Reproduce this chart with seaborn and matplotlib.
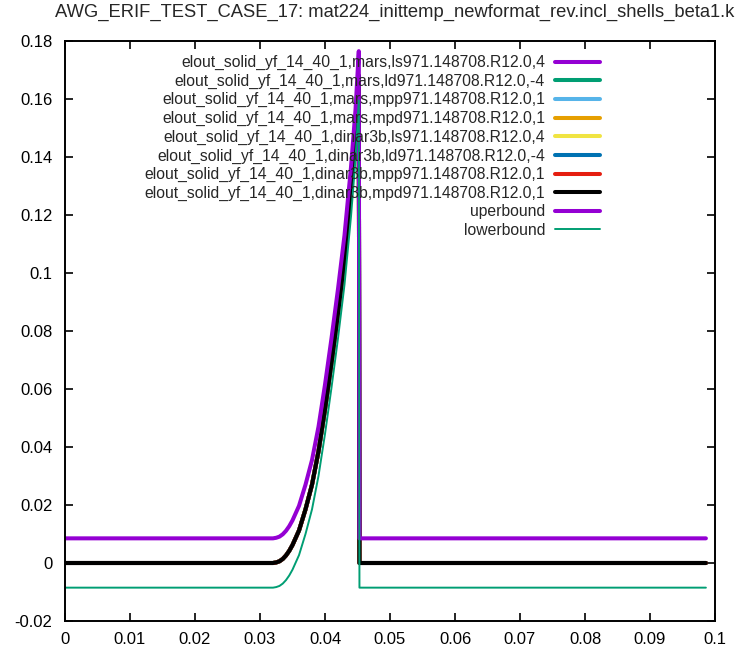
import matplotlib
matplotlib.use("Agg")
import matplotlib.pyplot as plt
import seaborn as sns

# valores
x_vals = [0.0, 0.01, 0.02, 0.03, 0.031, 0.032, 0.0325, 0.033, 0.0335, 0.034, 0.0345,
          0.035, 0.036, 0.037, 0.038, 0.039, 0.040, 0.041, 0.042, 0.043, 0.044,
          0.0447, 0.0452, 0.0453, 0.05, 0.06, 0.07, 0.08, 0.09, 0.0986]

elout_vals = [0.0, 0.0, 0.0, 0.0, 0.0, 0.0, 0.0002, 0.0006, 0.0014, 0.0026, 0.0042,
              0.0062, 0.0112, 0.0185, 0.0270, 0.0385, 0.0530, 0.0690, 0.0860, 0.1045, 0.1280,
              0.1480, 0.1680, 0.0, 0.0, 0.0, 0.0, 0.0, 0.0, 0.0]

upper_vals = [0.0085, 0.0085, 0.0085, 0.0085, 0.0085, 0.0085, 0.0087, 0.0091, 0.0099, 0.0111, 0.0127,
              0.0147, 0.0197, 0.0270, 0.0355, 0.0470, 0.0615, 0.0775, 0.0945, 0.1130, 0.1365,
              0.1565, 0.1765, 0.0085, 0.0085, 0.0085, 0.0085, 0.0085, 0.0085, 0.0085]

lower_vals = [-0.0085, -0.0085, -0.0085, -0.0085, -0.0085, -0.0085, -0.0083, -0.0079, -0.0071, -0.0059, -0.0043,
              -0.0023, 0.0027, 0.0100, 0.0185, 0.0300, 0.0445, 0.0605, 0.0775, 0.0960, 0.1195,
              0.1395, 0.1595, -0.0085, -0.0085, -0.0085, -0.0085, -0.0085, -0.0085, -0.0085]

series_labels = [
    "elout_solid_yf_14_40_1,mars,ls971.148708.R12.0,4",
    "elout_solid_yf_14_40_1,mars,ld971.148708.R12.0,-4",
    "elout_solid_yf_14_40_1,mars,mpp971.148708.R12.0,1",
    "elout_solid_yf_14_40_1,mars,mpd971.148708.R12.0,1",
    "elout_solid_yf_14_40_1,dinar3b,ls971.148708.R12.0,4",
    "elout_solid_yf_14_40_1,dinar3b,ld971.148708.R12.0,-4",
    "elout_solid_yf_14_40_1,dinar3b,mpp971.148708.R12.0,1",
    "elout_solid_yf_14_40_1,dinar3b,mpd971.148708.R12.0,1",
]
series_colors = ["#9400d3", "#009e73", "#56b4e9", "#e69f00",
                 "#f0e442", "#0072b2", "#e51e10", "#000000"]

x_ticks = [0.0, 0.01, 0.02, 0.03, 0.04, 0.05, 0.06, 0.07, 0.08, 0.09, 0.1]
x_tick_labels = ["0", "0.01", "0.02", "0.03", "0.04", "0.05", "0.06", "0.07", "0.08", "0.09", "0.1"]
y_ticks = [-0.02, 0.0, 0.02, 0.04, 0.06, 0.08, 0.1, 0.12, 0.14, 0.16, 0.18]
y_tick_labels = ["-0.02", "0", "0.02", "0.04", "0.06", "0.08", "0.1", "0.12", "0.14", "0.16", "0.18"]

titulo = "AWG_ERIF_TEST_CASE_17: mat224_inittemp_newformat_rev.incl_shells_beta1.k"

sns.set_style("ticks")
plt.rcParams['font.family'] = ['Liberation Sans', 'DejaVu Sans']

fig = plt.figure(figsize=(7.35, 6.52), dpi=100)
ax = fig.add_axes([65 / 735, 1 - 621 / 652, 650 / 735, 580 / 652])

for lab, cor in zip(series_labels, series_colors):
    sns.lineplot(x=x_vals, y=elout_vals, color=cor, linewidth=2.9, label=lab,
                 estimator=None, sort=False, ax=ax)
sns.lineplot(x=x_vals, y=upper_vals, color="#9400d3", linewidth=2.9, label="uperbound",
             estimator=None, sort=False, ax=ax)
sns.lineplot(x=x_vals, y=lower_vals, color="#009e73", linewidth=1.4, label="lowerbound",
             estimator=None, sort=False, ax=ax)

ax.set_xlim(0, 0.1)
ax.set_ylim(-0.02, 0.18)
ax.set_xticks(x_ticks)
ax.set_xticklabels(x_tick_labels)
ax.set_yticks(y_ticks)
ax.set_yticklabels(y_tick_labels)
ax.tick_params(direction='in', length=6, width=1.2, top=True, right=True,
               labelsize=12, colors='black')
ax.tick_params(axis='y', pad=9)
ax.tick_params(axis='x', pad=8)
for s in ax.spines.values():
    s.set_visible(True)
    s.set_color('black')
    s.set_linewidth(1.4)
ax.set_xlabel('')
ax.set_ylabel('')

handles, labels = ax.get_legend_handles_labels()
ax.legend(handles, labels, loc='upper right', bbox_to_anchor=((600 - 65) / 650, (621 - 55) / 580),
          frameon=False, markerfirst=False, fontsize=11.3, labelspacing=0.225,
          handlelength=2.85, handletextpad=0.65, borderpad=0, borderaxespad=0)

fig.text(395 / 735, 1 - 12 / 652, titulo, ha='center', va='center', fontsize=13.2)

fig.savefig("out.png", dpi=100)
